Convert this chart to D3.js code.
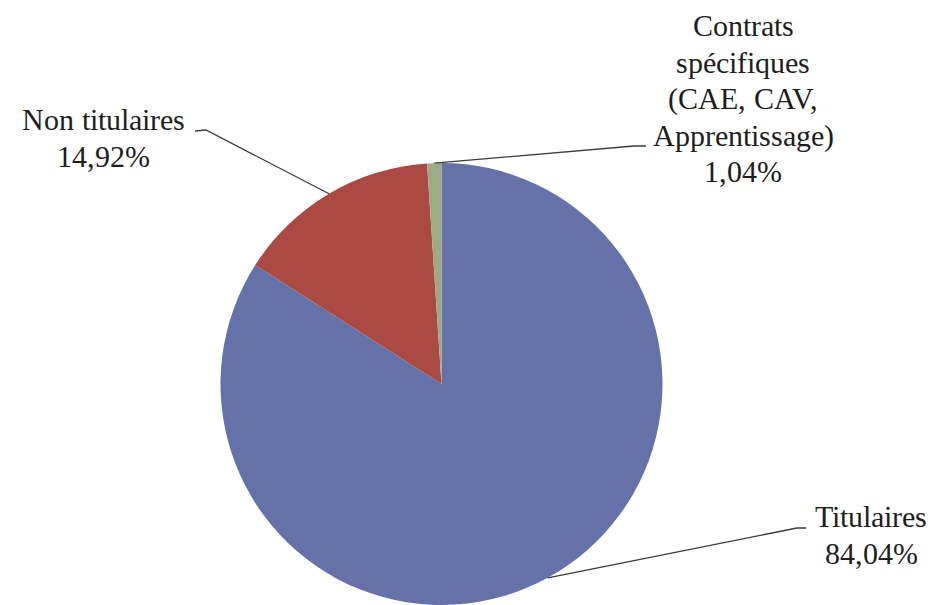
<!DOCTYPE html>
<html>
<head>
<meta charset="utf-8">
<script src="https://cdn.jsdelivr.net/npm/d3@7/dist/d3.min.js"></script>
<style>
  @font-face { font-family: 'LabelSerif'; src: local('Liberation Serif'), local('LiberationSerif'); }
  svg text { font-family: 'LabelSerif', 'Liberation Serif', serif !important; }
</style>
</head>
<body style="margin:0; background:#fff">
<script>
// data
const categories = ['Titulaires', 'Non titulaires', 'Contrats spécifiques (CAE, CAV, Apprentissage)'];
const shares = [84.04, 14.92, 1.04];
const labelLines = [
  ['Titulaires', '84,04%'],
  ['Non titulaires', '14,92%'],
  ['Contrats', 'spécifiques', '(CAE, CAV,', 'Apprentissage)', '1,04%']
];
const colors = ['#6571a9', '#aa4a42', '#9daa85'];

// layout
const width = 938, height = 605;
const cx = 441.5, cy = 384, radius = 221;
const lineHeight = 36.5;
// label: center x, first baseline, leader end (label side) points
const labelLayout = [
  { x: 871, y: 527, leader: [[806, 528], [797, 528]] },
  { x: 103, y: 130, leader: [[195, 131], [206, 130]] },
  { x: 743, y: 36, leader: [[646, 146], [634, 146]] }
];

const svg = d3.select('body').append('svg')
  .attr('width', width)
  .attr('height', height)
  .style('display', 'block');

const g = svg.append('g')
  .attr('transform', `translate(${cx}, ${cy})`);

const pie = d3.pie().sort(null).value(d => d);
const arcs = pie(shares);
const arc = d3.arc().innerRadius(0).outerRadius(radius);

g.selectAll('.slice')
  .data(arcs)
  .enter().append('path')
    .attr('class', 'slice')
    .attr('fill', (d, i) => colors[i])
    .attr('d', arc);

// leader lines
const line = d3.line();
arcs.forEach((d, i) => {
  const a = (d.startAngle + d.endAngle) / 2;
  const edge = [cx + radius * Math.sin(a), cy - radius * Math.cos(a)];
  const pts = labelLayout[i].leader.concat([edge]);
  svg.append('path')
    .attr('d', line(pts))
    .attr('fill', 'none')
    .attr('stroke', '#3a3a3a')
    .attr('stroke-width', 1.3);
});

// labels, one text per line
labelLines.forEach((lines, i) => {
  lines.forEach((s, k) => {
    svg.append('text')
      .attr('x', labelLayout[i].x)
      .attr('y', labelLayout[i].y + k * lineHeight)
      .style('font-family', "'LabelSerif', 'Liberation Serif', serif", 'important')
      .attr('font-size', 30)
      .attr('fill', '#1e1e1e')
      .attr('text-anchor', 'middle')
      .text(s);
  });
});
</script>
</body>
</html>
